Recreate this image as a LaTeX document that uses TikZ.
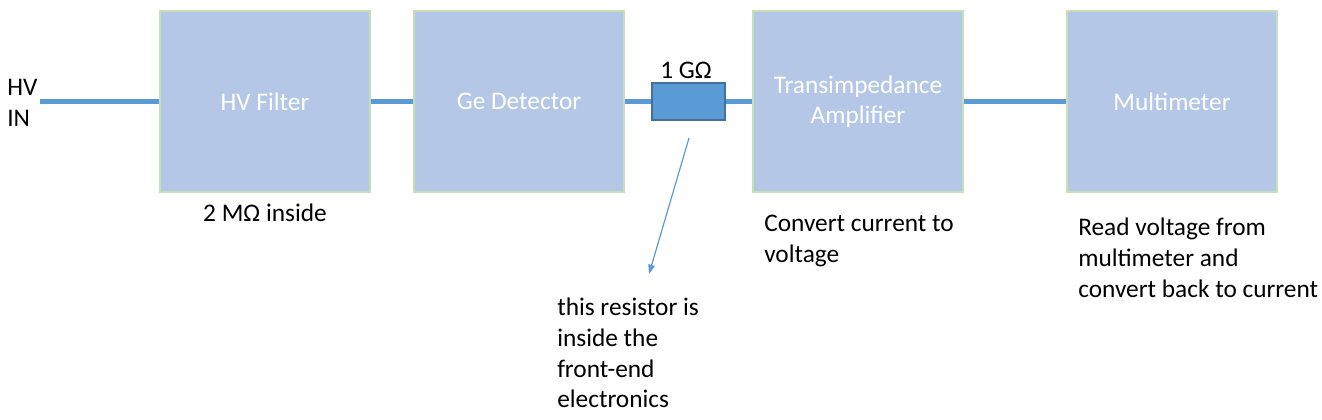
\documentclass[tikz,border=0pt]{standalone}
\usepackage{fontspec}
\setmainfont{Carlito}
\usetikzlibrary{arrows.meta}
\definecolor{boxfill}{HTML}{B4C7E7}
\definecolor{boxedge}{HTML}{C5E0B4}
\definecolor{wire}{HTML}{5B9BD5}
\definecolor{resedge}{HTML}{41719C}
\tikzset{
  blk/.style={draw=boxedge, line width=0.8pt, fill=boxfill, text=white,
    minimum width=157.5pt, minimum height=135.75pt, inner sep=0pt,
    font=\fontsize{19}{22.5}\selectfont, align=center},
  res/.style={draw=resedge, line width=0.8pt, fill=wire,
    minimum width=54.75pt, minimum height=27.75pt, inner sep=0pt},
  wireline/.style={draw=wire, line width=3.75pt},
  lbl/.style={font=\fontsize{19}{23}\selectfont, text=black, inner sep=0pt, align=left},
  note/.style={draw=wire, line width=0.9pt, -{Triangle[length=7pt,width=5pt]}}
}
\begin{document}
\begin{tikzpicture}[x=0.75pt,y=-0.75pt]
\useasboundingbox (0,0) rectangle (1322,419);
\node[blk] (filter) at (265,101.5) {HV Filter};
\node[blk] (ge) at (519,101.5) {Ge Detector};
\node[blk] (tia) at (858,101.5) {Transimpedance\\Amplifier};
\node[blk] (mm) at (1172,101.5) {Multimeter};
\node[res] (r) at (688.5,101.5) {};
\coordinate (hvin) at (40,101.5);
\draw[wireline] (hvin) -- (filter.west);
\draw[wireline] (filter.east) -- (ge.west);
\draw[wireline] (ge.east) -- (r.west);
\draw[wireline] (r.east) -- (tia.west);
\draw[wireline] (tia.east) -- (mm.west);
\node[lbl, anchor=west] (hvlbl) at (7,103) {HV\\IN};
\node[lbl, anchor=center] (rval) at (686,70) {1 G\symbol{"03A9}};
\node[lbl, anchor=center] (filterlbl) at (265,213) {2 M\symbol{"03A9} inside};
\node[lbl, anchor=north west] (tialbl) at (764,215) {Convert current to\\voltage};
\node[lbl, anchor=north west] (mmlbl) at (1078,218) {Read voltage from\\multimeter and\\convert back to current};
\node[lbl, anchor=north west] (reslbl) at (557,298) {this resistor is\\inside the\\front-end\\electronics};
\coordinate (ar1) at (689,138);
\coordinate (ar2) at (649,274);
\draw[note] (ar1) -- (ar2);
\end{tikzpicture}
\end{document}
